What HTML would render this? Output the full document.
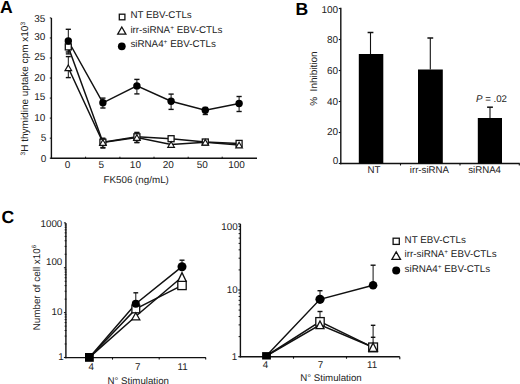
<!DOCTYPE html><html><head><meta charset="utf-8"><style>html,body{margin:0;padding:0;background:#fff;}svg{display:block}</style></head><body>
<svg width="520" height="384" viewBox="0 0 520 384" font-family="Liberation Sans, sans-serif" fill="#111" stroke="#111" text-rendering="geometricPrecision">
<g stroke="none" fill="#000">
<text x="0.0" y="12.5" font-size="17.6" text-anchor="start" font-weight="bold">A</text>
<text x="295.5" y="14.8" font-size="17.6" text-anchor="start" font-weight="bold">B</text>
<text x="1.4" y="222.6" font-size="17.6" text-anchor="start" font-weight="bold">C</text>
</g>
<line x1="51.4" y1="18" x2="51.4" y2="158.89999999999998" stroke-width="1.4"/>
<line x1="50.699999999999996" y1="158.2" x2="257" y2="158.2" stroke-width="1.4"/>
<g stroke="none" fill="#222">
<text x="45.4" y="21.8" font-size="10" text-anchor="end" >35</text>
<text x="45.4" y="40.0" font-size="10" text-anchor="end" >30</text>
<text x="45.4" y="60.1" font-size="10" text-anchor="end" >25</text>
<text x="45.4" y="81.0" font-size="10" text-anchor="end" >20</text>
<text x="45.4" y="100.1" font-size="10" text-anchor="end" >15</text>
<text x="45.4" y="120.5" font-size="10" text-anchor="end" >10</text>
<text x="46.4" y="140.9" font-size="10" text-anchor="end" >5</text>
<text x="46.4" y="162.1" font-size="10" text-anchor="end" >0</text>
</g>
<line x1="49.8" y1="158.2" x2="51.4" y2="158.2" stroke-width="1.0"/>
<line x1="49.8" y1="138.16" x2="51.4" y2="138.16" stroke-width="1.0"/>
<line x1="49.8" y1="118.11999999999999" x2="51.4" y2="118.11999999999999" stroke-width="1.0"/>
<line x1="49.8" y1="98.07999999999998" x2="51.4" y2="98.07999999999998" stroke-width="1.0"/>
<line x1="49.8" y1="78.03999999999999" x2="51.4" y2="78.03999999999999" stroke-width="1.0"/>
<line x1="49.8" y1="57.999999999999986" x2="51.4" y2="57.999999999999986" stroke-width="1.0"/>
<line x1="49.8" y1="37.959999999999994" x2="51.4" y2="37.959999999999994" stroke-width="1.0"/>
<line x1="49.8" y1="17.919999999999987" x2="51.4" y2="17.919999999999987" stroke-width="1.0"/>
<line x1="85.6" y1="156.7" x2="85.6" y2="158.2" stroke-width="1.0"/>
<line x1="119.9" y1="156.7" x2="119.9" y2="158.2" stroke-width="1.0"/>
<line x1="154.0" y1="156.7" x2="154.0" y2="158.2" stroke-width="1.0"/>
<line x1="188.2" y1="156.7" x2="188.2" y2="158.2" stroke-width="1.0"/>
<line x1="222.2" y1="156.7" x2="222.2" y2="158.2" stroke-width="1.0"/>
<g stroke="none" fill="#222">
<text x="67.6" y="167.6" font-size="10" text-anchor="middle" >0</text>
<text x="101.2" y="167.6" font-size="10" text-anchor="middle" >5</text>
<text x="135.4" y="167.6" font-size="10" text-anchor="middle" >10</text>
<text x="168.3" y="167.6" font-size="10" text-anchor="middle" >20</text>
<text x="202.3" y="167.6" font-size="10" text-anchor="middle" >50</text>
<text x="236.5" y="167.6" font-size="10" text-anchor="middle" >100</text>
<text x="136.2" y="183.4" font-size="9.8" text-anchor="middle" >FK506 (ng/mL)</text>
</g>
<g stroke="none" fill="#222">
<text transform="translate(28.3,88.7) rotate(-90)" font-size="10" text-anchor="middle"><tspan font-size="6.5" dy="-3.5">3</tspan><tspan dy="3.5">H thymidine uptake cpm x10</tspan><tspan font-size="6.5" dy="-3.5">3</tspan></text>
</g>
<polyline points="68.3,67.8 102.9,142.5 136.9,137.5 171.1,144.5 205.3,142.3 239.1,145.0" fill="none" stroke-width="1.5"/>
<polyline points="68.3,46.9 102.9,142.2 136.9,136.8 171.1,138.7 205.3,142.0 239.1,143.4" fill="none" stroke-width="1.5"/>
<polyline points="68.3,41 102.9,102.8 136.9,85.9 171.1,101.2 205.3,110.3 239.1,103.5" fill="none" stroke-width="1.5"/>
<line x1="68.3" y1="29.3" x2="68.3" y2="52.0" stroke-width="1.0"/>
<line x1="65.7" y1="29.3" x2="70.89999999999999" y2="29.3" stroke-width="1.4"/>
<line x1="65.7" y1="52.0" x2="70.89999999999999" y2="52.0" stroke-width="1.4"/>
<line x1="102.9" y1="98.1" x2="102.9" y2="108" stroke-width="1.0"/>
<line x1="100.30000000000001" y1="98.1" x2="105.5" y2="98.1" stroke-width="1.4"/>
<line x1="100.30000000000001" y1="108" x2="105.5" y2="108" stroke-width="1.4"/>
<line x1="136.9" y1="79.4" x2="136.9" y2="93.9" stroke-width="1.0"/>
<line x1="134.3" y1="79.4" x2="139.5" y2="79.4" stroke-width="1.4"/>
<line x1="134.3" y1="93.9" x2="139.5" y2="93.9" stroke-width="1.4"/>
<line x1="171.1" y1="94.1" x2="171.1" y2="109.4" stroke-width="1.0"/>
<line x1="168.5" y1="94.1" x2="173.7" y2="94.1" stroke-width="1.4"/>
<line x1="168.5" y1="109.4" x2="173.7" y2="109.4" stroke-width="1.4"/>
<line x1="205.3" y1="107.5" x2="205.3" y2="114.5" stroke-width="1.0"/>
<line x1="202.70000000000002" y1="107.5" x2="207.9" y2="107.5" stroke-width="1.4"/>
<line x1="202.70000000000002" y1="114.5" x2="207.9" y2="114.5" stroke-width="1.4"/>
<line x1="239.1" y1="96.5" x2="239.1" y2="111.5" stroke-width="1.0"/>
<line x1="236.5" y1="96.5" x2="241.7" y2="96.5" stroke-width="1.4"/>
<line x1="236.5" y1="111.5" x2="241.7" y2="111.5" stroke-width="1.4"/>
<line x1="68.3" y1="46.9" x2="68.3" y2="53.9" stroke-width="1.0"/>
<line x1="65.8" y1="46.9" x2="70.8" y2="46.9" stroke-width="1.4"/>
<line x1="65.8" y1="53.9" x2="70.8" y2="53.9" stroke-width="1.4"/>
<line x1="102.9" y1="138.2" x2="102.9" y2="147.5" stroke-width="1.0"/>
<line x1="100.4" y1="138.2" x2="105.4" y2="138.2" stroke-width="1.4"/>
<line x1="100.4" y1="147.5" x2="105.4" y2="147.5" stroke-width="1.4"/>
<line x1="136.9" y1="132.4" x2="136.9" y2="142.4" stroke-width="1.0"/>
<line x1="134.4" y1="132.4" x2="139.4" y2="132.4" stroke-width="1.4"/>
<line x1="134.4" y1="142.4" x2="139.4" y2="142.4" stroke-width="1.4"/>
<line x1="68.3" y1="56.6" x2="68.3" y2="77.6" stroke-width="1.0"/>
<line x1="65.8" y1="56.6" x2="70.8" y2="56.6" stroke-width="1.4"/>
<line x1="65.8" y1="77.6" x2="70.8" y2="77.6" stroke-width="1.4"/>
<line x1="102.9" y1="139" x2="102.9" y2="148" stroke-width="1.0"/>
<line x1="100.4" y1="139" x2="105.4" y2="139" stroke-width="1.4"/>
<line x1="100.4" y1="148" x2="105.4" y2="148" stroke-width="1.4"/>
<line x1="136.9" y1="133" x2="136.9" y2="142.6" stroke-width="1.0"/>
<line x1="134.4" y1="133" x2="139.4" y2="133" stroke-width="1.4"/>
<line x1="134.4" y1="142.6" x2="139.4" y2="142.6" stroke-width="1.4"/>
<rect x="65.3" y="43.9" width="6.0" height="6.0" fill="#fff" stroke-width="1.3"/>
<rect x="99.9" y="139.2" width="6.0" height="6.0" fill="#fff" stroke-width="1.3"/>
<rect x="133.9" y="133.8" width="6.0" height="6.0" fill="#fff" stroke-width="1.3"/>
<rect x="168.1" y="135.7" width="6.0" height="6.0" fill="#fff" stroke-width="1.3"/>
<rect x="202.3" y="139.0" width="6.0" height="6.0" fill="#fff" stroke-width="1.3"/>
<rect x="236.1" y="140.4" width="6.0" height="6.0" fill="#fff" stroke-width="1.3"/>
<polygon points="68.3,65.0 71.6,70.6 65.0,70.6" fill="#fff" stroke-width="1.2" stroke-linejoin="miter"/>
<polygon points="102.9,139.7 106.2,145.3 99.60000000000001,145.3" fill="#fff" stroke-width="1.2" stroke-linejoin="miter"/>
<polygon points="136.9,134.7 140.20000000000002,140.3 133.6,140.3" fill="#fff" stroke-width="1.2" stroke-linejoin="miter"/>
<polygon points="171.1,141.7 174.4,147.3 167.79999999999998,147.3" fill="#fff" stroke-width="1.2" stroke-linejoin="miter"/>
<polygon points="205.3,139.5 208.60000000000002,145.10000000000002 202.0,145.10000000000002" fill="#fff" stroke-width="1.2" stroke-linejoin="miter"/>
<polygon points="239.1,142.2 242.4,147.8 235.79999999999998,147.8" fill="#fff" stroke-width="1.2" stroke-linejoin="miter"/>
<circle cx="68.3" cy="41" r="3.7" fill="#000" stroke="none"/>
<circle cx="102.9" cy="102.8" r="3.7" fill="#000" stroke="none"/>
<circle cx="136.9" cy="85.9" r="3.7" fill="#000" stroke="none"/>
<circle cx="171.1" cy="101.2" r="3.7" fill="#000" stroke="none"/>
<circle cx="205.3" cy="110.3" r="3.7" fill="#000" stroke="none"/>
<circle cx="239.1" cy="103.5" r="3.7" fill="#000" stroke="none"/>
<rect x="119.3" y="14.2" width="5.6" height="5.6" fill="#fff" stroke-width="1.3"/>
<polygon points="121.8,27.0 125.89999999999999,34.2 117.7,34.2" fill="#fff" stroke-width="1.3" stroke-linejoin="miter"/>
<circle cx="121.8" cy="46.3" r="3.9" fill="#000" stroke="none"/>
<g stroke="none" fill="#222">
<text x="130.4" y="18.3" font-size="9.8" text-anchor="start" >NT EBV-CTLs</text>
<text x="130.4" y="33.3" font-size="9.8" text-anchor="start" >irr-siRNA<tspan font-size="6.5" dy="-3.5">+</tspan><tspan dy="3.5"> EBV-CTLs</tspan></text>
<text x="130.4" y="47.1" font-size="9.8" text-anchor="start" >siRNA4<tspan font-size="6.5" dy="-3.5">+</tspan><tspan dy="3.5"> EBV-CTLs</tspan></text>
</g>
<line x1="340.8" y1="7.8" x2="340.8" y2="164.2" stroke-width="1.4"/>
<line x1="340.1" y1="163.5" x2="519.8" y2="163.5" stroke-width="1.4"/>
<line x1="338.8" y1="163.5" x2="340.8" y2="163.5" stroke-width="1.1"/>
<line x1="338.8" y1="132.5" x2="340.8" y2="132.5" stroke-width="1.1"/>
<line x1="338.8" y1="101.5" x2="340.8" y2="101.5" stroke-width="1.1"/>
<line x1="338.8" y1="70.5" x2="340.8" y2="70.5" stroke-width="1.1"/>
<line x1="338.8" y1="39.5" x2="340.8" y2="39.5" stroke-width="1.1"/>
<line x1="338.8" y1="8.5" x2="340.8" y2="8.5" stroke-width="1.1"/>
<line x1="400.5" y1="163.5" x2="400.5" y2="165.5" stroke-width="1.1"/>
<line x1="460" y1="163.5" x2="460" y2="165.5" stroke-width="1.1"/>
<line x1="519.3" y1="163.5" x2="519.3" y2="165.5" stroke-width="1.1"/>
<g stroke="none" fill="#222">
<text x="338.2" y="13.4" font-size="10" text-anchor="end" >100</text>
<text x="338.2" y="43.0" font-size="10" text-anchor="end" >80</text>
<text x="338.2" y="74.25" font-size="10" text-anchor="end" >60</text>
<text x="338.2" y="104.5" font-size="10" text-anchor="end" >40</text>
<text x="338.2" y="135.25" font-size="10" text-anchor="end" >20</text>
<text x="338.2" y="163.8" font-size="10" text-anchor="end" >0</text>
<text x="373.9" y="173.2" font-size="9.7" text-anchor="middle" >NT</text>
<text x="429.4" y="173.2" font-size="9.7" text-anchor="middle" >irr-siRNA</text>
<text x="484.6" y="173.2" font-size="9.7" text-anchor="middle" >siRNA4</text>
<text x="476" y="101.8" font-size="9.7"><tspan font-style="italic">P</tspan> = .02</text>
<text transform="translate(316.6,78.6) rotate(-90)" font-size="10" text-anchor="middle" xml:space="preserve">%  Inhibition</text>
</g>
<line x1="370.5" y1="32.5" x2="370.5" y2="54.0" stroke-width="1.1"/>
<line x1="367.6" y1="32.5" x2="373.4" y2="32.5" stroke-width="1.5"/>
<rect x="358.8" y="54.0" width="24.5" height="109.5" fill="#000" stroke="none"/>
<line x1="430.3" y1="38.0" x2="430.3" y2="69.5" stroke-width="1.1"/>
<line x1="427.40000000000003" y1="38.0" x2="433.2" y2="38.0" stroke-width="1.5"/>
<rect x="418.0" y="69.5" width="24.80000000000001" height="94.0" fill="#000" stroke="none"/>
<line x1="490.0" y1="107.2" x2="490.0" y2="118.0" stroke-width="1.1"/>
<line x1="487.1" y1="107.2" x2="492.9" y2="107.2" stroke-width="1.5"/>
<rect x="477.8" y="118.0" width="24.19999999999999" height="45.5" fill="#000" stroke="none"/>
<line x1="65.9" y1="222.9" x2="65.9" y2="358.3" stroke-width="1.4"/>
<line x1="65.2" y1="357.6" x2="205.9" y2="357.6" stroke-width="1.4"/>
<line x1="63.900000000000006" y1="357.5" x2="65.9" y2="357.5" stroke-width="1.1"/>
<line x1="64.60000000000001" y1="343.99378752787607" x2="66.5" y2="343.99378752787607" stroke-width="0.9"/>
<line x1="64.60000000000001" y1="336.09315970491116" x2="66.5" y2="336.09315970491116" stroke-width="0.9"/>
<line x1="64.60000000000001" y1="330.4875750557521" x2="66.5" y2="330.4875750557521" stroke-width="0.9"/>
<line x1="64.60000000000001" y1="326.13954580545726" x2="66.5" y2="326.13954580545726" stroke-width="0.9"/>
<line x1="64.60000000000001" y1="322.58694723278717" x2="66.5" y2="322.58694723278717" stroke-width="0.9"/>
<line x1="64.60000000000001" y1="319.583267938027" x2="66.5" y2="319.583267938027" stroke-width="0.9"/>
<line x1="64.60000000000001" y1="316.98136258362814" x2="66.5" y2="316.98136258362814" stroke-width="0.9"/>
<line x1="64.60000000000001" y1="314.6863194098223" x2="66.5" y2="314.6863194098223" stroke-width="0.9"/>
<line x1="63.900000000000006" y1="312.6333333333333" x2="65.9" y2="312.6333333333333" stroke-width="1.1"/>
<line x1="64.60000000000001" y1="299.1271208612094" x2="66.5" y2="299.1271208612094" stroke-width="0.9"/>
<line x1="64.60000000000001" y1="291.2264930382445" x2="66.5" y2="291.2264930382445" stroke-width="0.9"/>
<line x1="64.60000000000001" y1="285.6209083890854" x2="66.5" y2="285.6209083890854" stroke-width="0.9"/>
<line x1="64.60000000000001" y1="281.27287913879064" x2="66.5" y2="281.27287913879064" stroke-width="0.9"/>
<line x1="64.60000000000001" y1="277.72028056612055" x2="66.5" y2="277.72028056612055" stroke-width="0.9"/>
<line x1="64.60000000000001" y1="274.71660127136033" x2="66.5" y2="274.71660127136033" stroke-width="0.9"/>
<line x1="64.60000000000001" y1="272.11469591696147" x2="66.5" y2="272.11469591696147" stroke-width="0.9"/>
<line x1="64.60000000000001" y1="269.81965274315564" x2="66.5" y2="269.81965274315564" stroke-width="0.9"/>
<line x1="63.900000000000006" y1="267.76666666666665" x2="65.9" y2="267.76666666666665" stroke-width="1.1"/>
<line x1="64.60000000000001" y1="254.26045419454272" x2="66.5" y2="254.26045419454272" stroke-width="0.9"/>
<line x1="64.60000000000001" y1="246.3598263715778" x2="66.5" y2="246.3598263715778" stroke-width="0.9"/>
<line x1="64.60000000000001" y1="240.75424172241875" x2="66.5" y2="240.75424172241875" stroke-width="0.9"/>
<line x1="64.60000000000001" y1="236.40621247212397" x2="66.5" y2="236.40621247212397" stroke-width="0.9"/>
<line x1="64.60000000000001" y1="232.85361389945388" x2="66.5" y2="232.85361389945388" stroke-width="0.9"/>
<line x1="64.60000000000001" y1="229.84993460469366" x2="66.5" y2="229.84993460469366" stroke-width="0.9"/>
<line x1="64.60000000000001" y1="227.2480292502948" x2="66.5" y2="227.2480292502948" stroke-width="0.9"/>
<line x1="64.60000000000001" y1="224.95298607648897" x2="66.5" y2="224.95298607648897" stroke-width="0.9"/>
<line x1="63.900000000000006" y1="222.9" x2="65.9" y2="222.9" stroke-width="1.1"/>
<line x1="112.5" y1="357.6" x2="112.5" y2="359.6" stroke-width="1.1"/>
<line x1="159.2" y1="357.6" x2="159.2" y2="359.6" stroke-width="1.1"/>
<line x1="205.7" y1="357.6" x2="205.7" y2="359.6" stroke-width="1.1"/>
<g stroke="none" fill="#222">
<text x="62.3" y="226.9" font-size="9.8" text-anchor="end" >1000</text>
<text x="62.3" y="265.40000000000003" font-size="9.8" text-anchor="end" >100</text>
<text x="62.5" y="314.7" font-size="9.8" text-anchor="end" >10</text>
<text x="63.8" y="360.1" font-size="9.8" text-anchor="end" >1</text>
<text x="91.2" y="369.6" font-size="9.8" text-anchor="middle" >4</text>
<text x="137.7" y="369.6" font-size="9.8" text-anchor="middle" >7</text>
<text x="182.7" y="369.6" font-size="9.8" text-anchor="middle" >11</text>
<text x="138.2" y="384" font-size="9.7" text-anchor="middle" >N° Stimulation</text>
<text transform="translate(39.6,287.6) rotate(-90)" font-size="9.85" text-anchor="middle">Number of cell x10<tspan font-size="6.2" dy="-3.6">6</tspan></text>
</g>
<polyline points="89.4,357.4 135.8,316.3 182.0,277.0" fill="none" stroke-width="1.5"/>
<polyline points="89.4,357.4 135.8,308.9 182.0,285.4" fill="none" stroke-width="1.5"/>
<polyline points="89.4,357.4 135.8,303.75 182.0,266.7" fill="none" stroke-width="1.5"/>
<line x1="135.8" y1="292.8" x2="135.8" y2="303.75" stroke-width="1.0"/>
<line x1="133.4" y1="292.8" x2="138.20000000000002" y2="292.8" stroke-width="1.4"/>
<line x1="182.0" y1="260.2" x2="182.0" y2="266.7" stroke-width="1.0"/>
<line x1="179.5" y1="260.2" x2="184.5" y2="260.2" stroke-width="1.4"/>
<rect x="131.9" y="305.0" width="7.8" height="7.8" fill="#fff" stroke-width="1.3"/>
<rect x="177.8" y="281.2" width="8.4" height="8.4" fill="#fff" stroke-width="1.3"/>
<polygon points="135.8,312.8 139.8,319.8 131.8,319.8" fill="#fff" stroke-width="1.3" stroke-linejoin="miter"/>
<polygon points="182.0,272.6 186.2,281.4 177.8,281.4" fill="#fff" stroke-width="1.3" stroke-linejoin="miter"/>
<circle cx="135.8" cy="303.75" r="4.0" fill="#000" stroke="none"/>
<circle cx="182.0" cy="266.7" r="4.5" fill="#000" stroke="none"/>
<rect x="85.0" y="353.0" width="8.8" height="8.8" fill="#000" stroke-width="0"/>
<line x1="240.4" y1="223.9" x2="240.4" y2="357.4" stroke-width="1.4"/>
<line x1="239.70000000000002" y1="356.7" x2="399.8" y2="356.7" stroke-width="1.4"/>
<line x1="399.8" y1="356.7" x2="399.8" y2="359.3" stroke-width="1.1"/>
<line x1="238.20000000000002" y1="356.7" x2="240.4" y2="356.7" stroke-width="1.1"/>
<line x1="238.6" y1="336.62129928921246" x2="240.4" y2="336.62129928921246" stroke-width="1.0"/>
<line x1="238.6" y1="324.8760123101985" x2="240.4" y2="324.8760123101985" stroke-width="1.0"/>
<line x1="238.6" y1="316.5425985784249" x2="240.4" y2="316.5425985784249" stroke-width="1.0"/>
<line x1="238.6" y1="310.07870071078753" x2="240.4" y2="310.07870071078753" stroke-width="1.0"/>
<line x1="238.6" y1="304.797311599411" x2="240.4" y2="304.797311599411" stroke-width="1.0"/>
<line x1="238.6" y1="300.3319607310491" x2="240.4" y2="300.3319607310491" stroke-width="1.0"/>
<line x1="238.6" y1="296.46389786763734" x2="240.4" y2="296.46389786763734" stroke-width="1.0"/>
<line x1="238.6" y1="293.05202462039705" x2="240.4" y2="293.05202462039705" stroke-width="1.0"/>
<line x1="238.20000000000002" y1="290.0" x2="240.4" y2="290.0" stroke-width="1.1"/>
<line x1="238.6" y1="269.92129928921247" x2="240.4" y2="269.92129928921247" stroke-width="1.0"/>
<line x1="238.6" y1="258.17601231019853" x2="240.4" y2="258.17601231019853" stroke-width="1.0"/>
<line x1="238.6" y1="249.8425985784249" x2="240.4" y2="249.8425985784249" stroke-width="1.0"/>
<line x1="238.6" y1="243.37870071078754" x2="240.4" y2="243.37870071078754" stroke-width="1.0"/>
<line x1="238.6" y1="238.09731159941097" x2="240.4" y2="238.09731159941097" stroke-width="1.0"/>
<line x1="238.6" y1="233.63196073104908" x2="240.4" y2="233.63196073104908" stroke-width="1.0"/>
<line x1="238.6" y1="229.76389786763738" x2="240.4" y2="229.76389786763738" stroke-width="1.0"/>
<line x1="238.6" y1="226.35202462039706" x2="240.4" y2="226.35202462039706" stroke-width="1.0"/>
<line x1="238.20000000000002" y1="223.9" x2="240.4" y2="223.9" stroke-width="1.1"/>
<line x1="293.5" y1="356.7" x2="293.5" y2="358.7" stroke-width="1.1"/>
<line x1="346.5" y1="356.7" x2="346.5" y2="358.7" stroke-width="1.1"/>
<g stroke="none" fill="#222">
<text x="237.6" y="230.3" font-size="9.8" text-anchor="end" >100</text>
<text x="237.6" y="293.3" font-size="9.8" text-anchor="end" >10</text>
<text x="237.2" y="360.3" font-size="9.8" text-anchor="end" >1</text>
<text x="265.4" y="368.3" font-size="9.8" text-anchor="middle" >4</text>
<text x="320.4" y="368.3" font-size="9.8" text-anchor="middle" >7</text>
<text x="372.1" y="368.3" font-size="9.8" text-anchor="middle" >11</text>
<text x="331.0" y="381.2" font-size="9.7" text-anchor="middle" >N° Stimulation</text>
</g>
<polyline points="266.2,356.0 320.0,324.8 373.1,347.2" fill="none" stroke-width="1.5"/>
<polyline points="266.2,356.0 320.0,321.5 373.1,347.4" fill="none" stroke-width="1.5"/>
<polyline points="266.2,356.0 320.0,299.3 373.1,285.2" fill="none" stroke-width="1.5"/>
<line x1="320.0" y1="290.7" x2="320.0" y2="299.3" stroke-width="1.0"/>
<line x1="317.5" y1="290.7" x2="322.5" y2="290.7" stroke-width="1.4"/>
<line x1="320.0" y1="311.5" x2="320.0" y2="321.8" stroke-width="1.0"/>
<line x1="317.5" y1="311.5" x2="322.5" y2="311.5" stroke-width="1.4"/>
<line x1="373.1" y1="265.2" x2="373.1" y2="285.2" stroke-width="1.0"/>
<line x1="370.6" y1="265.2" x2="375.6" y2="265.2" stroke-width="1.4"/>
<line x1="373.1" y1="325.3" x2="373.1" y2="337.3" stroke-width="1.0"/>
<line x1="370.85" y1="325.3" x2="375.35" y2="325.3" stroke-width="1.4"/>
<line x1="370.85" y1="337.3" x2="375.35" y2="337.3" stroke-width="1.4"/>
<line x1="373.1" y1="337.3" x2="373.1" y2="343.5" stroke-width="1.0"/>
<rect x="315.8" y="317.6" width="8.4" height="8.4" fill="#fff" stroke-width="1.3"/>
<rect x="368.70000000000005" y="343.0" width="8.8" height="8.8" fill="#fff" stroke-width="1.3"/>
<polygon points="320.0,321.0 324.0,328.6 316.0,328.6" fill="#fff" stroke-width="1.3" stroke-linejoin="miter"/>
<polygon points="373.1,343.0 377.40000000000003,351.4 368.8,351.4" fill="#fff" stroke-width="1.3" stroke-linejoin="miter"/>
<circle cx="320.0" cy="299.3" r="4.6" fill="#000" stroke="none"/>
<circle cx="373.1" cy="285.2" r="4.3" fill="#000" stroke="none"/>
<rect x="262.1" y="352.1" width="8.8" height="7.4" fill="#000" stroke="none"/>
<rect x="393.09999999999997" y="238.20000000000002" width="6.2" height="6.2" fill="#fff" stroke-width="1.3"/>
<polygon points="396.2,251.79999999999998 400.5,259.4 391.9,259.4" fill="#fff" stroke-width="1.3" stroke-linejoin="miter"/>
<circle cx="396.2" cy="270.4" r="4.0" fill="#000" stroke="none"/>
<g stroke="none" fill="#222">
<text x="404.6" y="242.6" font-size="9.8" text-anchor="start" >NT EBV-CTLs</text>
<text x="404.6" y="257.4" font-size="9.8" text-anchor="start" >irr-siRNA<tspan font-size="6.5" dy="-3.5">+</tspan><tspan dy="3.5"> EBV-CTLs</tspan></text>
<text x="404.6" y="272.4" font-size="9.8" text-anchor="start" >siRNA4<tspan font-size="6.5" dy="-3.5">+</tspan><tspan dy="3.5"> EBV-CTLs</tspan></text>
</g>
</svg></body></html>
